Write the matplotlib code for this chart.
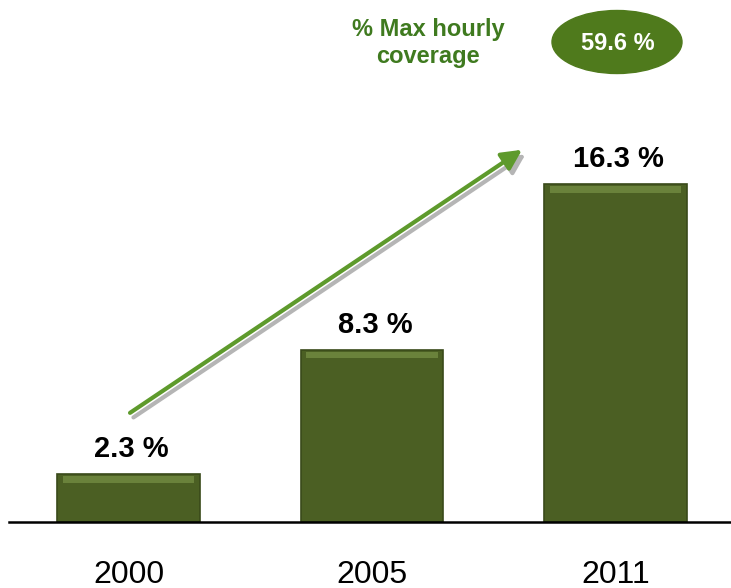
import matplotlib.pyplot as plt
from matplotlib.patches import Ellipse

# valores
years = ['2000', '2005', '2011']
coverage = [2.3, 8.3, 16.3]
max_hourly = 59.6

bar_color = '#4b5f23'
top_color = '#7f9a4c'

fig = plt.figure(figsize=(7.31, 5.88), dpi=100)
ax = fig.add_axes([0, 0.1122, 1, 0.8878])
ax.set_xlim(-0.528, 2.474)
ax.set_ylim(0, 25.2)

x = range(len(years))
ax.bar(x, coverage, width=0.585, color=bar_color, edgecolor='#3a4a1a', linewidth=1.2, zorder=2)
# franja clara en la parte superior de cada barra
ax.bar(x, [0.3] * len(years), bottom=[v - 0.4 for v in coverage], width=0.54,
       color=top_color, linewidth=0, alpha=0.6, zorder=3)

for xi, v in zip(x, coverage):
    ax.annotate(f'{v} %', (xi, v), xytext=(2, 8), textcoords='offset points',
                ha='center', va='bottom', fontsize=21, fontweight='bold',
                family='Liberation Sans', color='black')

# línea base
ax.plot([-0.49, 2.474], [0, 0], color='black', lw=1.8, zorder=4, clip_on=False)

ax.set_xticks(list(x))
ax.set_xticklabels(years, fontsize=23, family='Liberation Sans')
ax.tick_params(axis='x', length=0, pad=27)
ax.set_yticks([])
for s in ax.spines.values():
    s.set_visible(False)

# flecha de tendencia con sombra
start, end = (0.006, 5.27), (1.616, 17.97)
head = '-|>,head_length=1.2,head_width=0.6'
ax.annotate('', xy=(end[0] + 0.014, end[1] - 0.22), xytext=(start[0] + 0.014, start[1] - 0.22),
            arrowprops=dict(arrowstyle=head, color='#b5b5b5', lw=3,
                            shrinkA=0, shrinkB=0), zorder=1)
ax.annotate('', xy=end, xytext=start,
            arrowprops=dict(arrowstyle=head, color='#5e9a2c', lw=3,
                            shrinkA=0, shrinkB=0), zorder=2)

# etiqueta y elipse superior
fig.text(428 / 731, 1 - 43 / 588, '% Max hourly\ncoverage', ha='center', va='center',
         fontsize=17, fontweight='bold', color='#3f7a1f', family='Liberation Sans',
         linespacing=1.2)
ell = Ellipse((617 / 731, 1 - 42 / 588), 130 / 731, 63 / 588, transform=fig.transFigure,
              color='#4f7a1c')
fig.patches.append(ell)
fig.text(618 / 731, 1 - 43 / 588, f'{max_hourly} %', ha='center', va='center',
         fontsize=17, fontweight='bold', color='white', family='Liberation Sans')

fig.savefig('out.png', dpi=100)
